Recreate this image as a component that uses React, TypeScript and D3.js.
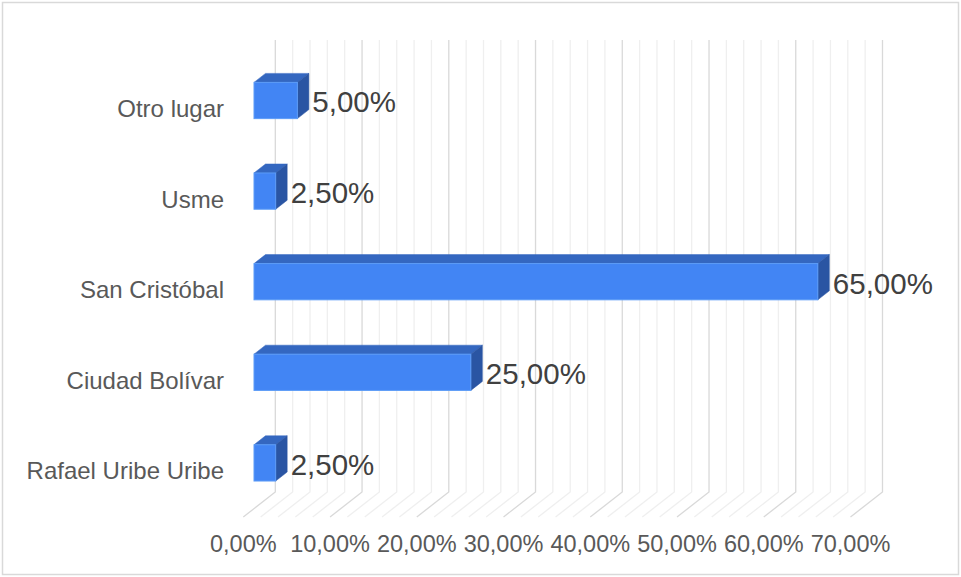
import React from "react";
import * as d3 from "d3";

const categories = ["Otro lugar", "Usme", "San Cristóbal", "Ciudad Bolívar", "Rafael Uribe Uribe"];
const values = [0.05, 0.025, 0.65, 0.25, 0.025];
const tickValues = [0, 0.1, 0.2, 0.3, 0.4, 0.5, 0.6, 0.7];
const minorTickValues = d3.range(0, 0.7001, 0.02);

const W = 961;
const H = 577;
const FONT = "'Liberation Sans', Arial, Helvetica, sans-serif";

const locale = d3.formatLocale({ decimal: ",", thousands: ".", grouping: [3], currency: ["", ""] });
const fmt = locale.format(".2%");

export default function App() {
  // back wall x scale
  const x = d3.scaleLinear().domain([0, 0.7]).range([275.3, 882.5]);
  const wallTop = 40;
  const wallBottom = 492;
  const floorDx = -32;
  const floorDy = 25;
  // bar front offset relative to back wall, and bar depth
  const barFrontDx = -21.3;
  const depthDx = 11.5;
  const depthDy = -9;

  const y = d3
    .scaleBand<string>()
    .domain(categories)
    .range([55.2, 508.2])
    .paddingInner(0.6)
    .paddingOuter(0.3);

  const bw = y.bandwidth();

  return (
    <svg width={W} height={H} style={{ position: "absolute", left: 0, top: 0, background: "#fff" }}>
      <rect x={2.5} y={2.5} width={956} height={572} fill="#fff" stroke="#d9d9d9" strokeWidth={1.5} />
      {/* minor grid */}
      {minorTickValues.map((v, i) => {
        const major = Math.abs(Math.round(v * 10) - v * 10) < 1e-6;
        if (major) return null;
        const bx = x(v);
        return (
          <g key={"m" + i} stroke="#efefef" strokeWidth={1.3} fill="none">
            <path d={`M${bx},${wallTop}V${wallBottom}L${bx + floorDx},${wallBottom + floorDy}`} />
          </g>
        );
      })}
      {tickValues.map((v, i) => {
        const bx = x(v);
        return (
          <g key={"M" + i} stroke="#d9d9d9" strokeWidth={1.3} fill="none">
            <path d={`M${bx},${wallTop}V${wallBottom}L${bx + floorDx},${wallBottom + floorDy}`} />
          </g>
        );
      })}
      {/* bars */}
      {categories.map((c, i) => {
        const x0 = x(0) + barFrontDx;
        const x1 = x(values[i]) + barFrontDx;
        const y0 = y(c)!;
        const y1 = y0 + bw;
        const top = `M${x0},${y0}L${x0 + depthDx},${y0 + depthDy}L${x1 + depthDx},${y0 + depthDy}L${x1},${y0}Z`;
        const side = `M${x1},${y0}L${x1 + depthDx},${y0 + depthDy}L${x1 + depthDx},${y1 + depthDy}L${x1},${y1}Z`;
        return (
          <g key={c}>
            <path d={top} fill="#3467c0" stroke="#3467c0" strokeWidth={0.5} />
            <path d={side} fill="#2a55a3" stroke="#2a55a3" strokeWidth={0.5} />
            <rect x={x0} y={y0} width={x1 - x0} height={bw} fill="#4285f4" stroke="#5c9cf7" strokeWidth={1} />
          </g>
        );
      })}
      {/* data labels */}
      {categories.map((c, i) => (
        <text
          key={"l" + c}
          x={x(values[i]) + barFrontDx + 15}
          y={y(c)! + bw / 2 + 1.5}
          dy="0.35em"
          fontFamily={FONT}
          fontSize={29.5}
          fill="#404040"
        >
          {fmt(values[i])}
        </text>
      ))}
      {/* category labels */}
      {categories.map((c) => (
        <text
          key={"c" + c}
          x={224}
          y={y(c)! + bw / 2 + 8}
          dy="0.35em"
          textAnchor="end"
          fontFamily={FONT}
          fontSize={24}
          fill="#595959"
        >
          {c}
        </text>
      ))}
      {/* tick labels */}
      {tickValues.map((v) => (
        <text
          key={"t" + v}
          x={x(v) + floorDx}
          y={552}
          textAnchor="middle"
          fontFamily={FONT}
          fontSize={23.5}
          fill="#595959"
        >
          {fmt(v)}
        </text>
      ))}
    </svg>
  );
}
